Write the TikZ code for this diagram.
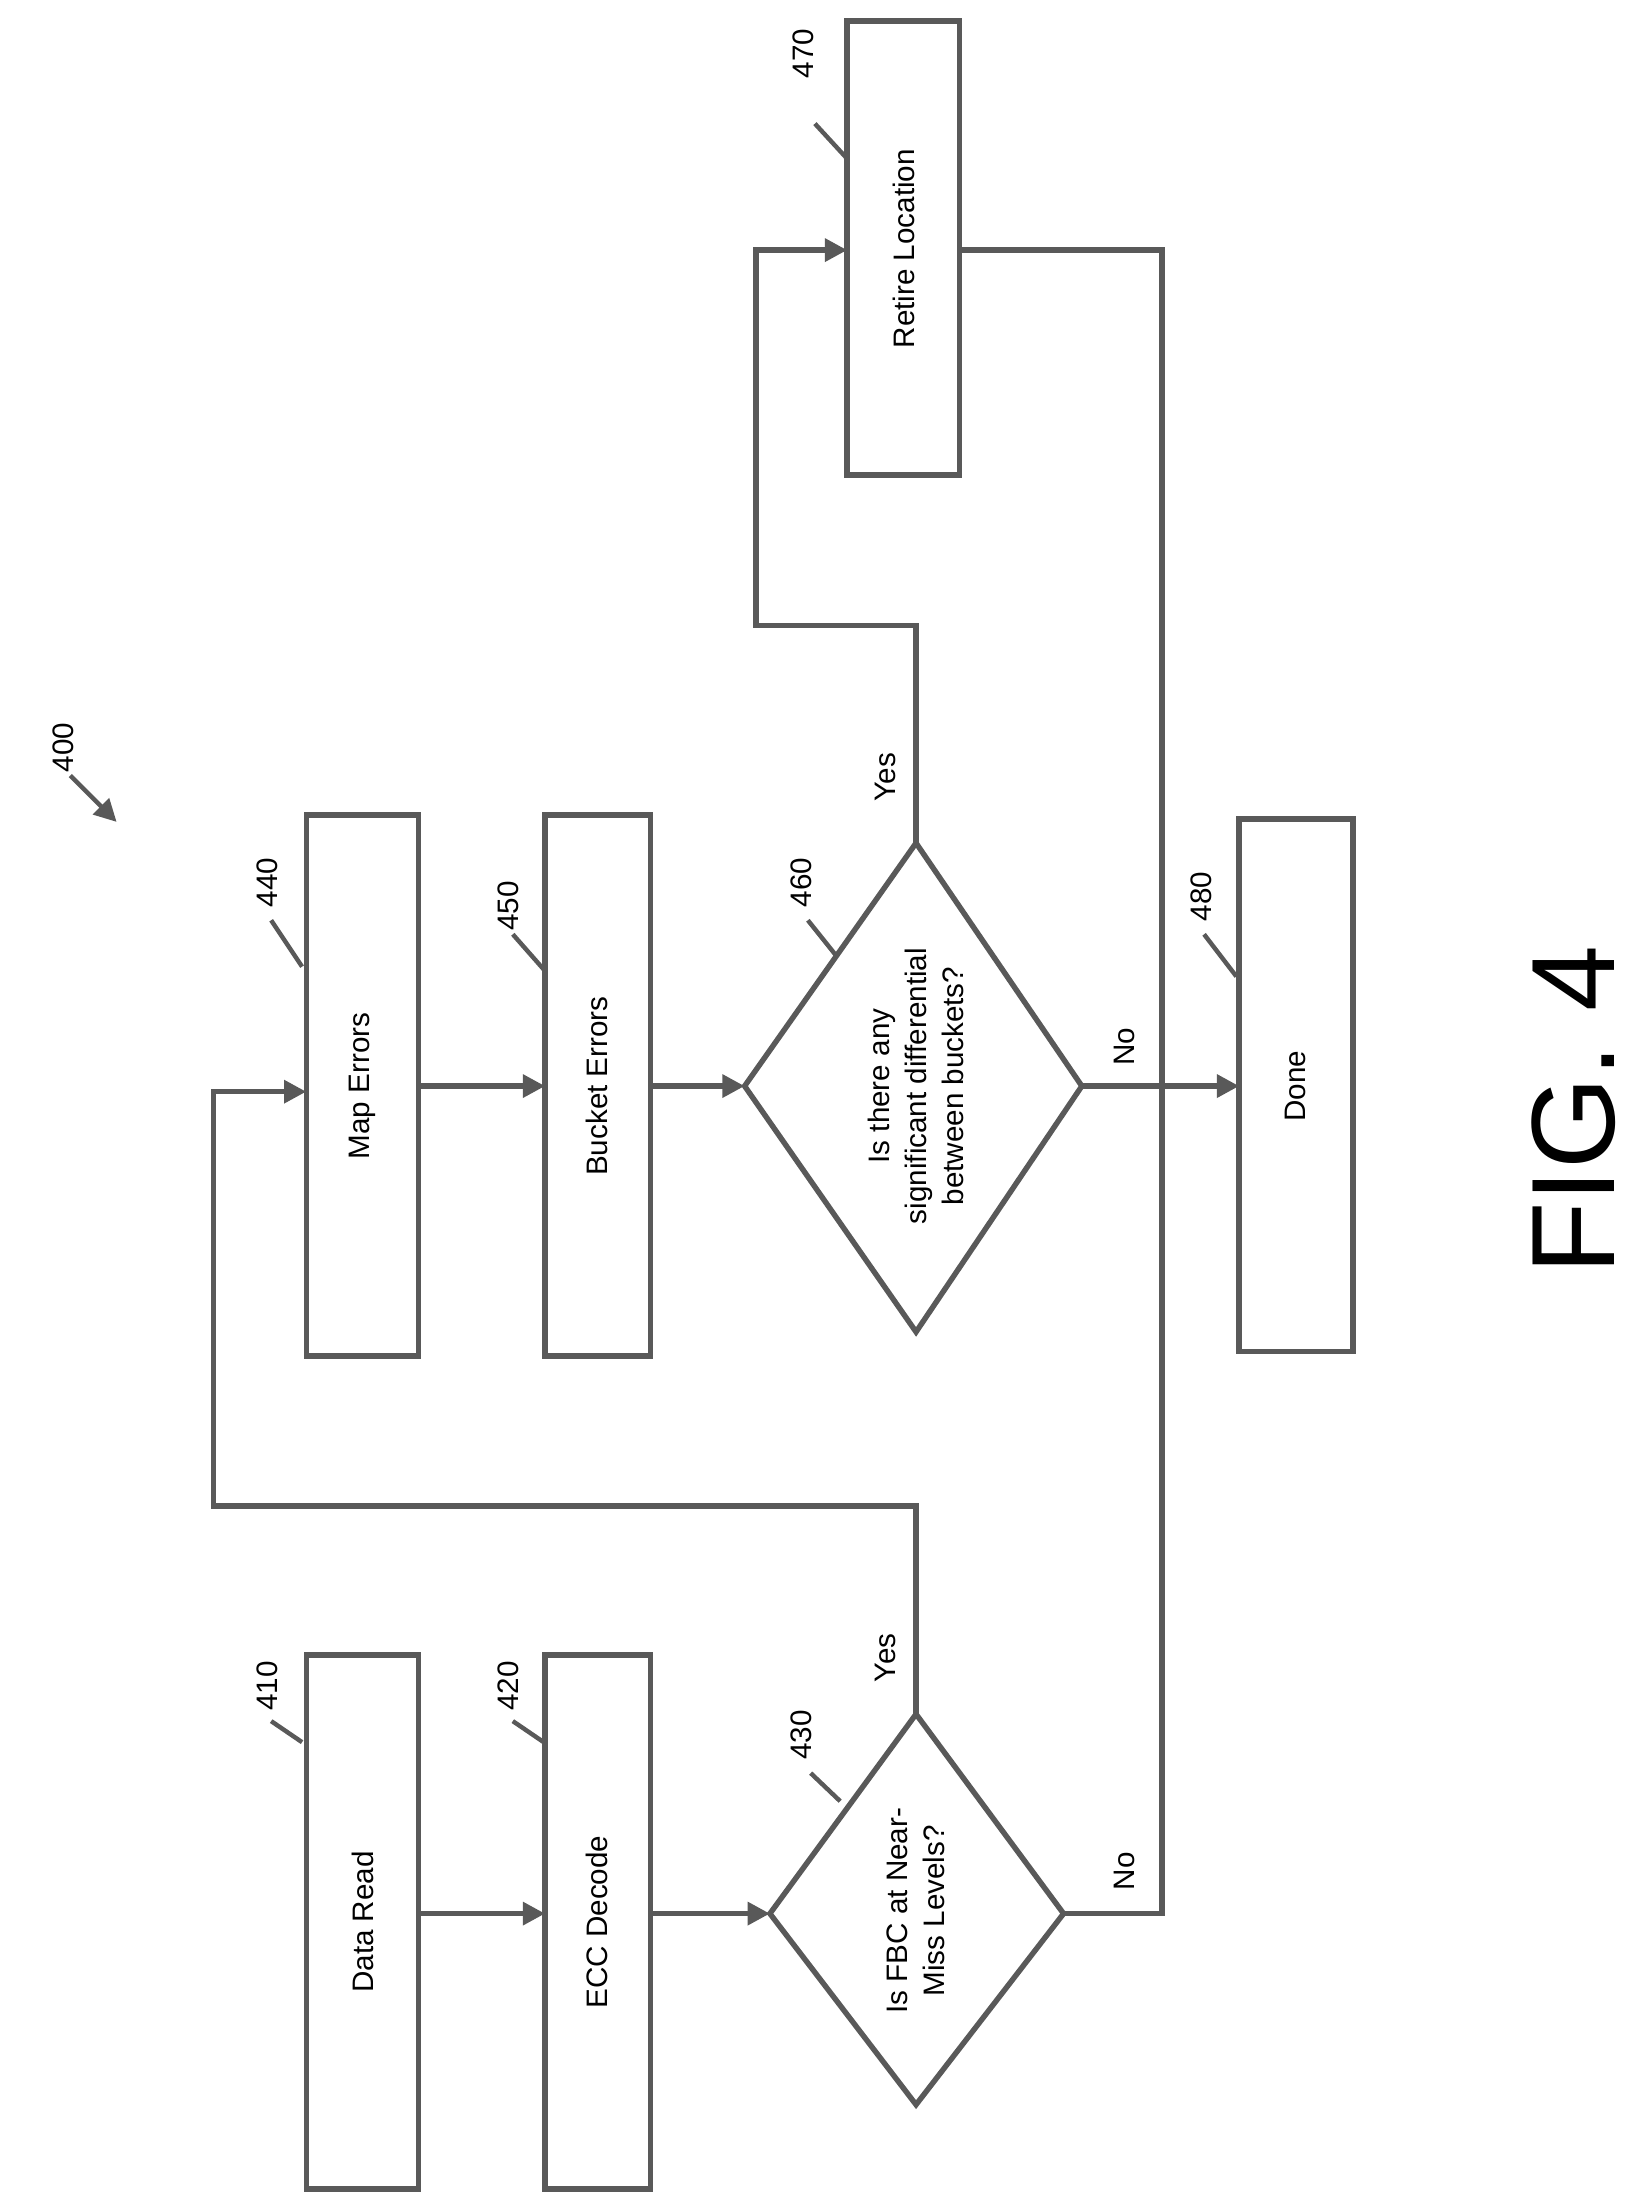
\documentclass[tikz,border=0pt]{standalone}
\usepackage{fontspec}
\setmainfont{Liberation Sans}
\usetikzlibrary{arrows.meta}
\begin{document}
\begin{tikzpicture}[x=0.02cm,y=-0.02cm,
  ln/.style={line width=2.2pt,draw=black!65},
  ar/.style={ln,-{Triangle[length=9pt,width=9pt]}},
  box/.style={ln,fill=white},
  txt/.style={rotate=90,font=\fontsize{12}{15}\selectfont,align=center},
  ref/.style={rotate=90,font=\fontsize{12}{14}\selectfont}]
\useasboundingbox (0,0) rectangle (1164,1568);
% boxes
\draw[box] (218,1178) rectangle (298,1558); \node[txt] (a) at (258,1368) {Data Read};
\draw[box] (388,1178) rectangle (463,1558); \node[txt] (b) at (425,1368) {ECC Decode};
\draw[box] (218,580) rectangle (298,965); \node[txt] (d) at (258,773) {Map Errors};
\draw[box] (388,580) rectangle (463,965); \node[txt] (e) at (425,773) {Bucket Errors};
\draw[box] (603,15) rectangle (683,338); \node[txt] (g) at (643,177) {Retire Location};
\draw[box] (882,583) rectangle (963,962); \node[txt] (h) at (922,773) {Done};
% diamonds
\draw[box] (548,1362) -- (652,1220) -- (757,1362) -- (652,1498) -- cycle;
\node[txt] (c) at (652,1360) {Is FBC at Near-\\Miss Levels?};
\draw[box] (530,773) -- (652,600) -- (770,773) -- (652,948) -- cycle;
\node[txt] (f) at (652,773) {Is there any\\significant differential\\between buckets?};
% connectors
\coordinate (c1) at (652,1220); \coordinate (c2) at (652,1072); \coordinate (c3) at (152,1072); \coordinate (c4) at (152,777);
\draw[ar] (298,1362) -- (388,1362);
\draw[ar] (463,1362) -- (548,1362);
\draw[ar] (c1) -- (c2) -- (c3) -- (c4) -- (218,777);
\draw[ar] (298,773) -- (388,773);
\draw[ar] (463,773) -- (530,773);
\draw[ar] (652,600) -- (652,445) -- (538,445) -- (538,178) -- (603,178);
\draw[ln] (683,178) -- (827,178) -- (827,1362) -- (757,1362);
\draw[ar] (770,773) -- (882,773);
% branch labels
\node[txt] at (630,1180) {Yes};
\node[txt] at (630,553) {Yes};
\node[txt] at (800,1332) {No};
\node[txt] at (800,745) {No};
% reference numerals
\node[ref] at (45,532) {400};
\draw[ar,line width=1.8pt] (50,552) -- (83,585);
\foreach \n/\x/\y/\lx/\ly/\ex/\ey in {410/190/1200/193/1225/215/1240, 420/362/1200/365/1225/387/1240,
  430/570/1235/577/1262/598/1282, 440/190/628/193/655/215/688, 450/362/645/365/665/387/690,
  460/570/628/575/655/595/680, 470/572/38/580/88/603/113, 480/855/638/857/665/880/695}{
  \node[ref] at (\x,\y) {\n};
  \draw[ln,line width=1.8pt] (\lx,\ly) -- (\ex,\ey);
}
\node[rotate=90,font=\fontsize{48}{50}\selectfont] (fig) at (1120,790) {FIG. 4};
\end{tikzpicture}
\end{document}
